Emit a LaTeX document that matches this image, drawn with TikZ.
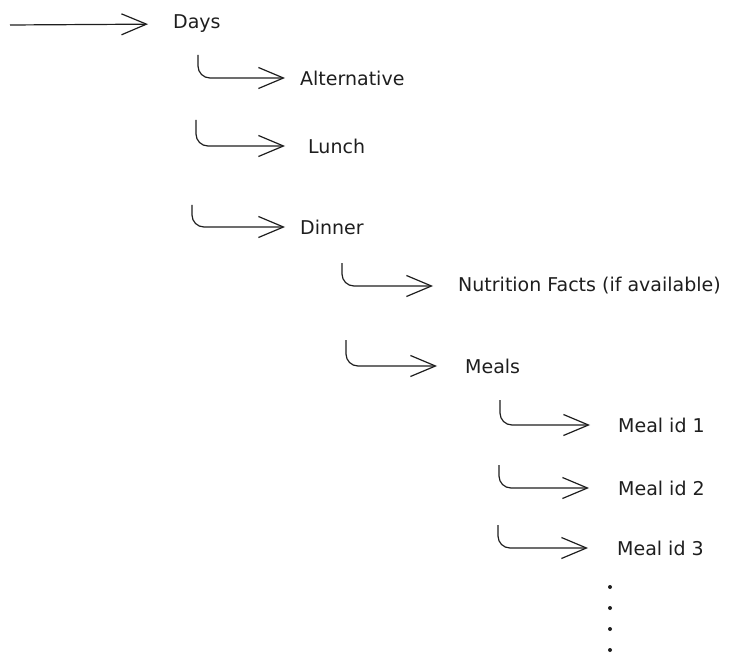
\documentclass[tikz,border=0pt]{standalone}
\usepackage{fontspec}
\setmainfont{DejaVu Sans}
\usetikzlibrary{arrows.meta}
\definecolor{ink}{HTML}{1E1E1E}
\tikzstyle{item} = [anchor=west, inner sep=0pt, text=ink, font=\fontsize{19}{21}\selectfont]
\tikzstyle{arrow} = [draw=ink, line width=1.2pt, -{Straight Barb[length=25pt, width=21pt, line width=1.2pt]}]
\tikzstyle{hookarrow} = [arrow, rounded corners=12pt]

\begin{document}
\begin{tikzpicture}[x=1pt, y=-1pt]
\useasboundingbox (0,0) rectangle (754,660);

\node (days) [item] at (173,24) {Days};
\node (alt) [item] at (300,78) {Alternative};
\node (lunch) [item] at (308,146) {Lunch};
\node (dinner) [item] at (300,227) {Dinner};
\node (nutri) [item] at (458,286) {Nutrition Facts (if available)};
\node (meals) [item] at (465,366) {Meals};
\node (meal1) [item] at (618,425) {Meal id 1};
\node (meal2) [item] at (618,488) {Meal id 2};
\node (meal3) [item] at (617,548) {Meal id 3};

% hook starts
\coordinate (start) at (10,25);
\coordinate (hAlt) at (198,55);
\coordinate (hLunch) at (196,120);
\coordinate (hDinner) at (192,205);
\coordinate (hNutri) at (342,263);
\coordinate (hMeals) at (346,340);
\coordinate (hMeal1) at (500,400);
\coordinate (hMeal2) at (499,465);
\coordinate (hMeal3) at (498,525);

\draw [arrow, shorten >=25pt] (start) -- (days.west);
\draw [hookarrow, shorten >=15pt] (hAlt) |- (alt.west);
\draw [hookarrow, shorten >=23pt] (hLunch) |- (lunch.west);
\draw [hookarrow, shorten >=15pt] (hDinner) |- (dinner.west);
\draw [hookarrow, shorten >=25pt] (hNutri) |- (nutri.west);
\draw [hookarrow, shorten >=28pt] (hMeals) |- (meals.west);
\draw [hookarrow, shorten >=28pt] (hMeal1) |- (meal1.west);
\draw [hookarrow, shorten >=29pt] (hMeal2) |- (meal2.west);
\draw [hookarrow, shorten >=29pt] (hMeal3) |- (meal3.west);

% more meals
\fill [ink] (610,587) circle (2pt);
\fill [ink] (610,608) circle (2pt);
\fill [ink] (610,629) circle (2pt);
\fill [ink] (610,650) circle (2pt);
\end{tikzpicture}
\end{document}
